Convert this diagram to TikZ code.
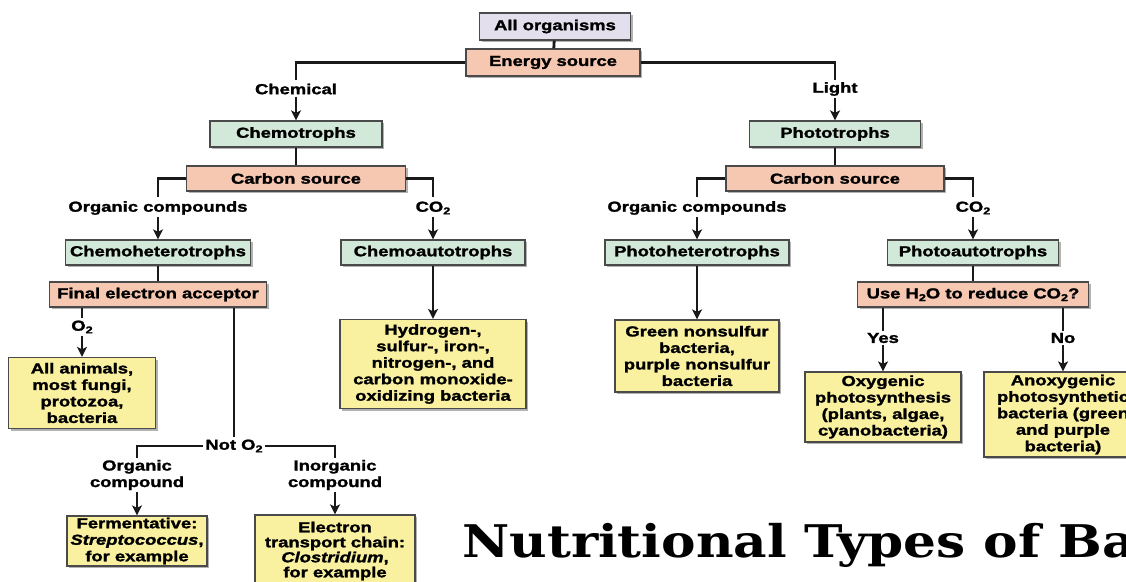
\documentclass[tikz,border=0pt]{standalone}
\usepackage{fontspec}
\setmainfont[FakeStretch=1.27, BoldFeatures={FakeBold=1.6}, BoldItalicFeatures={FakeBold=1.6}]{Liberation Sans}
\newfontfamily\titlefont[FakeStretch=1.15]{DejaVu Serif}
\usetikzlibrary{arrows.meta,shadows}
\definecolor{lav}{HTML}{E3DFEC}
\definecolor{sal}{HTML}{F6C8B2}
\definecolor{grn}{HTML}{D2E8D8}
\definecolor{yel}{HTML}{F9F0A0}
\definecolor{bord}{HTML}{4A4A4A}
\newcommand\lblfont{\bfseries\fontsize{14.5}{16.5}\selectfont}
\newcommand\tightfont{\bfseries\fontsize{14.5}{15}\selectfont}
\newcommand\sbs[1]{\raisebox{-0.35ex}{\fontsize{10}{10}\selectfont #1}}
\begin{document}
\begin{tikzpicture}[x=1pt,y=-1pt,
  box/.style={draw=bord, line width=1.3pt, inner sep=0pt, align=center, font=\lblfont,
    drop shadow={shadow xshift=2pt, shadow yshift=-2pt, fill=black!50, opacity=0.6}},
  lavbox/.style={box, fill=lav},
  salbox/.style={box, fill=sal},
  grnbox/.style={box, fill=grn},
  yelbox/.style={box, fill=yel},
  lbl/.style={font=\lblfont, align=center, inner sep=2pt},
  conn/.style={line width=2.8pt, draw=black!90},
  arr/.style={conn, -{Stealth[length=10pt,width=10pt,inset=2.5pt]}}
]
\useasboundingbox (0,0) rectangle (1126,581);
\clip (0,0) rectangle (1126,581);
\fill[white] (0,0) rectangle (1126,581);

% boxes
\node[lavbox, minimum width=151pt, minimum height=27pt] (org) at (555,26.5) {All organisms};
\node[salbox, minimum width=174pt, minimum height=27pt] (energy) at (553,62.5) {Energy source};
\node[grnbox, minimum width=172pt, minimum height=26pt] (chemo) at (296,134) {Chemotrophs};
\node[grnbox, minimum width=171pt, minimum height=26pt] (photo) at (835,134) {Phototrophs};
\node[salbox, minimum width=219pt, minimum height=25pt] (carbL) at (296,178.5) {Carbon source};
\node[salbox, minimum width=218pt, minimum height=25pt] (carbR) at (835,178.5) {Carbon source};
\node[grnbox, minimum width=185pt, minimum height=25pt] (cheht) at (158,252.5) {Chemoheterotrophs};
\node[grnbox, minimum width=184pt, minimum height=25pt] (cheaut) at (433,252.5) {Chemoautotrophs};
\node[grnbox, minimum width=184pt, minimum height=25pt] (phht) at (697,252.5) {Photoheterotrophs};
\node[grnbox, minimum width=171pt, minimum height=25pt] (phaut) at (973,252.5) {Photoautotrophs};
\node[salbox, minimum width=217pt, minimum height=25pt] (fea) at (158,294.5) {Final electron acceptor};
\node[salbox, minimum width=231pt, minimum height=25pt] (useh) at (973,294.5) {Use H\sbs{2}O to reduce CO\sbs{2}?};
\node[yelbox, minimum width=147pt, minimum height=71pt] (animals) at (82,393) {All animals,\\most fungi,\\protozoa,\\bacteria};
\node[yelbox, minimum width=186pt, minimum height=89pt] (hydro) at (433,364) {Hydrogen-,\\sulfur-, iron-,\\nitrogen-, and\\carbon monoxide-\\oxidizing bacteria};
\node[yelbox, minimum width=164pt, minimum height=72pt] (green) at (697,356) {Green nonsulfur\\bacteria,\\purple nonsulfur\\bacteria};
\node[yelbox, minimum width=156pt, minimum height=70pt] (oxy) at (883,407) {Oxygenic\\photosynthesis\\(plants, algae,\\cyanobacteria)};
\node[yelbox, minimum width=158pt, minimum height=85pt] (anoxy) at (1063,414.5) {Anoxygenic\\photosynthetic\\bacteria (green\\and purple\\bacteria)};
\node[yelbox, minimum width=140pt, minimum height=50pt] (ferm) at (137,541) {Fermentative:\\\textit{Streptococcus},\\for example};
\node[yelbox, font=\tightfont, minimum width=160pt, minimum height=72pt] (etc) at (335,551) {Electron\\transport chain:\\\textit{Clostridium},\\for example};

% labels
\node[lbl] (chemical) at (296,89) {Chemical};
\node[lbl] (light) at (835,89) {Light};
\node[lbl] (orgL) at (158,208) {Organic compounds};
\node[lbl] (co2L) at (433,208) {CO\sbs{2}};
\node[lbl] (orgR) at (697,208) {Organic compounds};
\node[lbl] (co2R) at (973,208) {CO\sbs{2}};
\node[lbl] (o2) at (82,327) {O\sbs{2}};
\node[lbl] (noto2) at (234,446) {Not O\sbs{2}};
\node[lbl] (orgc) at (137,475) {Organic\\compound};
\node[lbl] (inorgc) at (335,475) {Inorganic\\compound};
\node[lbl] (yes) at (883,338) {Yes};
\node[lbl] (no) at (1063,338) {No};

% connector corners
\coordinate (c1) at (296,80);
\coordinate (c2) at (835,80);
\coordinate (c3) at (158,197);
\coordinate (c4) at (433,197);
\coordinate (c5) at (697,197);
\coordinate (c6) at (973,197);
\coordinate (c7) at (137,458);
\coordinate (c8) at (335,458);

% connectors
\draw[conn] (org) -- (energy);
\draw[conn] (energy.west) -| (c1);
\draw[conn] (energy.east) -| (c2);
\draw[arr] (chemical) -- (chemo);
\draw[arr] (light) -- (photo);
\draw[conn] (chemo) -- (carbL);
\draw[conn] (photo) -- (carbR);
\draw[conn] (carbL.west) -| (c3);
\draw[conn] (carbL.east) -| (c4);
\draw[conn] (carbR.west) -| (c5);
\draw[conn] (carbR.east) -| (c6);
\draw[arr] (orgL) -- (cheht);
\draw[arr] (co2L) -- (cheaut);
\draw[arr] (orgR) -- (phht);
\draw[arr] (co2R) -- (phaut);
\draw[conn] (cheht) -- (fea);
\draw[conn] (phaut) -- (useh);
\draw[arr] (cheaut) -- (hydro);
\draw[arr] (phht) -- (green);
\draw[conn] (fea.south -| o2) -- (o2.north);
\draw[arr] (o2) -- (animals);
\draw[conn] (fea.south -| noto2) -- (noto2.north);
\draw[conn] (noto2.west) -| (c7);
\draw[conn] (noto2.east) -| (c8);
\draw[arr] (orgc) -- (ferm);
\draw[arr] (inorgc) -- (etc);
\draw[conn] (useh.south -| yes) -- (yes.north);
\draw[conn] (useh.south -| no) -- (no.north);
\draw[arr] (yes) -- (oxy);
\draw[arr] (no) -- (anoxy);

% title
\node[anchor=base west, inner sep=0pt, font=\titlefont\bfseries\fontsize{45}{50}\selectfont] (title) at (462,557) {Nutritional Types of Ba};
\end{tikzpicture}
\end{document}
